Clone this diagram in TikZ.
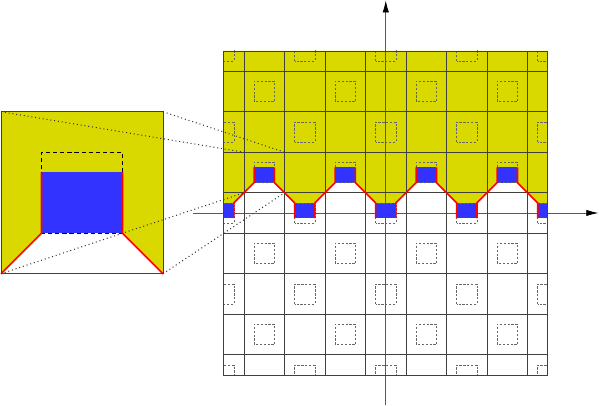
\documentclass[tikz,border=0pt]{standalone}
\usetikzlibrary{arrows.meta}
\definecolor{zoneyellow}{RGB}{217,217,0}
\definecolor{zoneblue}{RGB}{51,51,255}
\begin{document}
\begin{tikzpicture}[
    gridline/.style={draw=black!75,line width=0.4pt},
    cellbox/.style={draw=black!60,line width=0.35pt,dash pattern=on 1.6pt off 1.1pt},
    wall/.style={draw=red,line width=1.2pt},
    axis/.style={draw=black!65,line width=0.6pt,-{Latex[length=8.5pt,width=4.5pt,color=black]}},
    zoomline/.style={draw=black!80,line width=0.7pt,dotted}]
      \useasboundingbox (-9.525,-4.765) rectangle (5.265,5.259);
      \begin{scope}
        \clip (-4,-4) rectangle (4,4);
        \fill[zoneyellow] (-4,4) -- (-4,0.25) -- (-3.75,0.25) -- (-3.25,0.75) -- (-2.75,0.75)
          -- (-2.25,0.25) -- (-1.75,0.25) -- (-1.25,0.75) -- (-0.75,0.75) -- (-0.25,0.25)
          -- (0.25,0.25) -- (0.75,0.75) -- (1.25,0.75) -- (1.75,0.25) -- (2.25,0.25)
          -- (2.75,0.75) -- (3.25,0.75) -- (3.75,0.25) -- (4,0.25) -- (4,4) -- cycle;
      \end{scope}
      \draw[axis] (-4.75,0) -- (5.25,0);
      \draw[axis] (0,-4.75) -- (0,5.25);
      \begin{scope}
        \clip (-4,-4) rectangle (4,4);
        \foreach \c in {-4,-2,...,4}
          \fill[zoneblue] (\c-0.25,-0.125) rectangle (\c+0.25,0.25);
        \foreach \c in {-3,-1,...,3}
          \fill[zoneblue] (\c-0.25,0.75) rectangle (\c+0.25,1.125);
        \foreach \k in {-3.5,-2.5,...,3.5} {
          \draw[gridline] (\k,-4) -- (\k,4);
          \draw[gridline] (-4,\k) -- (4,\k);
        }
        \foreach \x in {-4,-2,...,4}
          \foreach \y in {-4,-2,...,4}
            \draw[cellbox] (\x-0.25,\y-0.25) rectangle (\x+0.25,\y+0.25);
        \foreach \x in {-3,-1,...,3}
          \foreach \y in {-3,-1,...,3}
            \draw[cellbox] (\x-0.25,\y-0.25) rectangle (\x+0.25,\y+0.25);
      \end{scope}
      \draw[gridline] (-4,-4) rectangle (4,4);
      % walls
      \foreach \c in {-4,-2,0,2} {
        \draw[wall] (\c+0.25,-0.125) -- (\c+0.25,0.25) -- (\c+0.75,0.75) -- (\c+0.75,1.125);
        \draw[wall] (\c+1.25,1.125) -- (\c+1.25,0.75) -- (\c+1.75,0.25) -- (\c+1.75,-0.125);
      }
      % zoomed cell
      \fill[zoneyellow] (-9.5,-1.5) rectangle (-5.5,2.5);
      \fill[white] (-9.5,-1.5) -- (-8.5,-0.5) -- (-6.5,-0.5) -- (-5.5,-1.5) -- cycle;
      \fill[zoneblue] (-8.5,-0.5) rectangle (-6.5,1);
      \draw[black,line width=0.8pt,dash pattern=on 3pt off 2pt] (-8.5,-0.5) rectangle (-6.5,1.5);
      \draw[wall] (-9.5,-1.5) -- (-8.5,-0.5) -- (-8.5,1);
      \draw[wall] (-5.5,-1.5) -- (-6.5,-0.5) -- (-6.5,1);
      \draw[gridline] (-9.5,-1.5) rectangle (-5.5,2.5);
      \coordinate (inNW) at (-9.5,2.5);
      \coordinate (inNE) at (-5.5,2.5);
      \coordinate (inSW) at (-9.5,-1.5);
      \coordinate (inSE) at (-5.5,-1.5);
      \coordinate (cellNW) at (-3.5,1.5);
      \coordinate (cellNE) at (-2.5,1.5);
      \coordinate (cellSW) at (-3.5,0.5);
      \coordinate (cellSE) at (-2.5,0.5);
      \draw[zoomline] (inNW) -- (cellNW);
      \draw[zoomline] (inNE) -- (cellNE);
      \draw[zoomline] (inSW) -- (cellSW);
      \draw[zoomline] (inSE) -- (cellSE);
\end{tikzpicture}
\end{document}
